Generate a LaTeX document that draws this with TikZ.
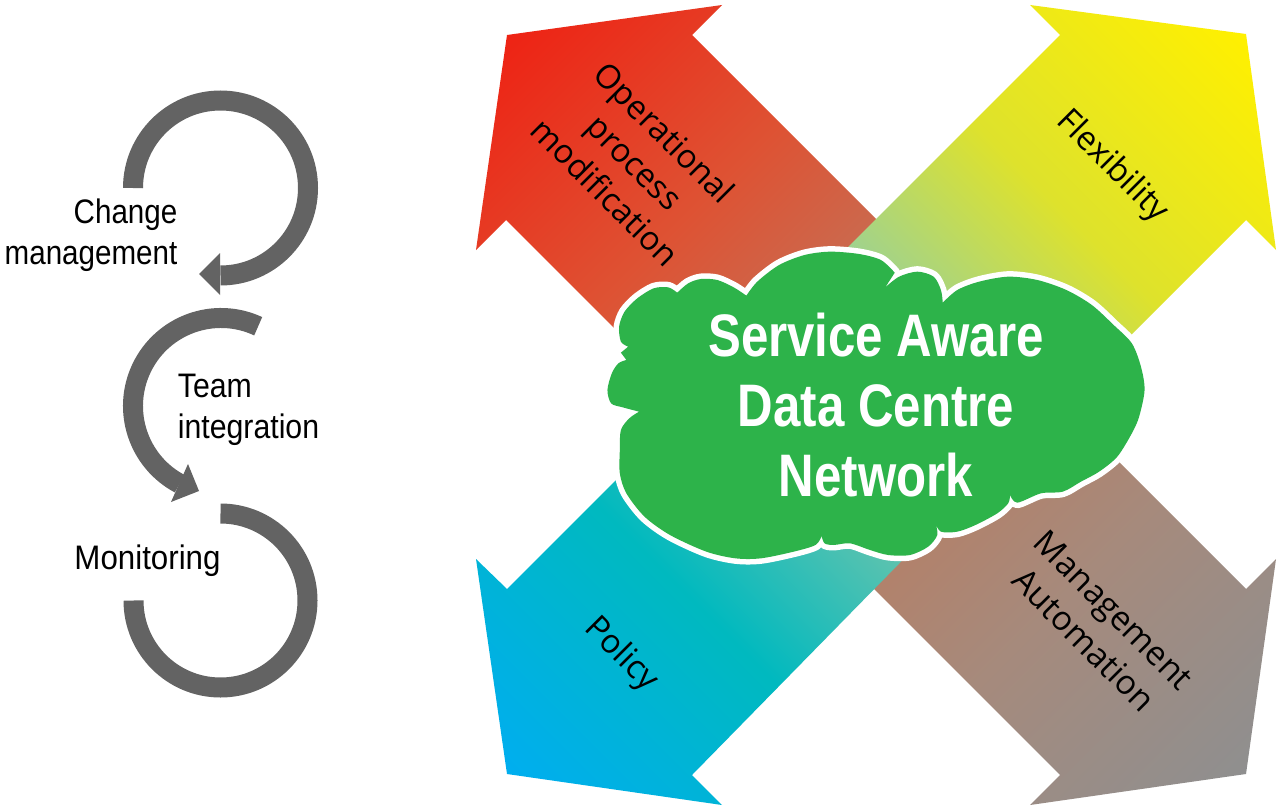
\documentclass[tikz,border=0pt]{standalone}
\usepackage{fontspec}
\newfontfamily\narrowfont{Liberation Sans}
\newfontfamily\labelfont{Open Sans}
\definecolor{ringgrey}{HTML}{636363}
\definecolor{cloudgreen}{HTML}{2DB34A}
\definecolor{redA}{HTML}{EE2314}\definecolor{redB}{HTML}{DE5233}\definecolor{redC}{HTML}{BC7B62}
\definecolor{yelA}{HTML}{FFF000}\definecolor{yelB}{HTML}{DEE22C}\definecolor{yelC}{HTML}{84CBB9}
\definecolor{bluA}{HTML}{00AEEF}\definecolor{bluB}{HTML}{00B9BF}\definecolor{bluC}{HTML}{87C7A7}
\definecolor{gryA}{HTML}{8F8F8F}\definecolor{gryB}{HTML}{A68A7C}\definecolor{gryC}{HTML}{BB7B5E}
\tikzset{
  ring/.style={draw=ringgrey,line width=20pt,line cap=butt},
  ringhead/.style={fill=ringgrey},
  sidelabel/.style={inner sep=0pt,text=black,font=\narrowfont\fontsize{34}{41}\selectfont},
  armlabel/.style={inner sep=0pt,rotate=-45,align=center,text=black,font=\labelfont\fontsize{33}{42}\selectfont},
  cloudlabel/.style={inner sep=0pt,xscale=.82,align=center,text=white,font=\narrowfont\bfseries\fontsize{60}{70}\selectfont}
}
\newcommand{\gradarrow}[8]{%
  \begin{scope}
    \clip #1 -- cycle;
    \shade[top color=#6,bottom color=#8,middle color=#7,shading angle=#5]
      (#2-#4,#3-#4) rectangle (#2+#4,#3+#4);
  \end{scope}}
\def\cloudoutline{
  plot[smooth,tension=.5] coordinates {(135,545)(90,532)(58,520)(48,480)(60,430)(78,400)(100,390)}
  -- (85,368) -- (105,350)
  -- plot[smooth,tension=.5] coordinates {(105,350)(85,335)(80,290)(95,245)(130,205)(175,175)(215,172)(240,188)}
  -- plot[smooth,tension=.5] coordinates {(240,188)(270,160)(305,147)(350,150)(395,172)(430,197)}
  -- plot[smooth,tension=.5] coordinates {(430,197)(460,155)(520,105)(590,75)(660,65)(740,72)(800,90)(838,128)}
  -- (812,172)
  -- plot[smooth,tension=.5] coordinates {(812,172)(850,140)(900,125)(945,140)(965,180)(970,218)}
  -- plot[smooth,tension=.5] coordinates {(970,218)(1010,180)(1070,155)(1150,140)(1230,150)(1310,180)(1380,225)(1440,285)(1490,340)(1515,410)(1525,480)(1510,560)(1490,610)(1450,680)(1400,725)(1350,755)(1300,785)(1240,790)(1175,818)(1155,795)}
  -- plot[smooth,tension=.5] coordinates {(1155,795)(1150,820)(1120,850)(1060,885)(1010,905)(965,905)(950,880)}
  -- plot[smooth,tension=.5] coordinates {(950,880)(955,915)(930,950)(880,975)(820,975)(770,960)(715,940)(670,945)(645,940)(637,918)}
  -- plot[smooth,tension=.5] coordinates {(637,918)(620,945)(560,965)(470,985)(400,985)(320,965)(220,915)(150,860)(100,790)(82,730)(82,660)(85,600)(108,565)(135,545)}
  -- cycle}
\begin{document}
\begin{tikzpicture}[x=1pt,y=-1pt]
\useasboundingbox (0,0) rectangle (1282,808);
\fill[white] (0,0) rectangle (1282,808);

% arms: red and grey lie under yellow and blue
\gradarrow{(507,35)--(722,5)--(692,35)--(910,253)--(660,374)--(506,220)--(476,250)}{687}{215}{255}{45}{redA}{redB}{redC}
\gradarrow{(1246,774)--(1276,559)--(1246,589)--(1090,433)--(850,565)--(1060,775)--(1030,805)}{1066}{594}{255}{-135}{gryA}{gryB}{gryC}
\gradarrow{(1246,34)--(1030,5)--(1060,35)--(830,265)--(1100,366)--(1246,220)--(1276,250)}{1066}{214}{255}{-45}{yelA}{yelB}{yelC}
\gradarrow{(507,774)--(476,559)--(507,589)--(650,446)--(935,527)--(692,775)--(722,805)}{687}{594}{255}{135}{bluA}{bluB}{bluC}

% cloud
\begin{scope}[shift={(590,230)},x=.36364pt,y=-.33333pt]
  \draw[white,line width=11pt,line join=round] \cloudoutline;
  \fill[cloudgreen] \cloudoutline;
\end{scope}

\node[cloudlabel] (title) at (876,405) {Service Aware\\Data Centre\\Network};

\node[armlabel] (opproc) at (635,162) {Operational\\process\\modification};
\node[armlabel] (flex) at (1112,167) {Flexibility};
\node[armlabel] (policy) at (621,655) {Policy};
\node[armlabel,font=\labelfont\fontsize{33.6}{42}\selectfont] (mgmt) at (1099,625) {Management\\Automation};

% left cycle
\coordinate (c1) at (220.5,188);
\coordinate (c2) at (221,406);
\coordinate (c3) at (220.5,600.5);
\draw[ring] (c1) ++(180:87.5) arc[start angle=180,end angle=450,radius=87.5];
\fill[ringhead] (199,274) -- (220,253) -- (220,295) -- cycle;
\draw[ring] (c2) ++(-65:88) arc[start angle=-65,end angle=-242,radius=88];
\fill[ringhead] (199,491) -- (188,464) -- (171,502) -- cycle;
\draw[ring] (c3) ++(-90:87) arc[start angle=-90,end angle=180,radius=87];

\node[sidelabel,align=right,xscale=.87] (change) at (91,235) {Change\\management};
\node[sidelabel,align=left,xscale=.89] (team) at (248.5,410) {Team\\integration};
\node[sidelabel,xscale=.92] (monitor) at (147.5,561) {Monitoring};
\end{tikzpicture}
\end{document}
